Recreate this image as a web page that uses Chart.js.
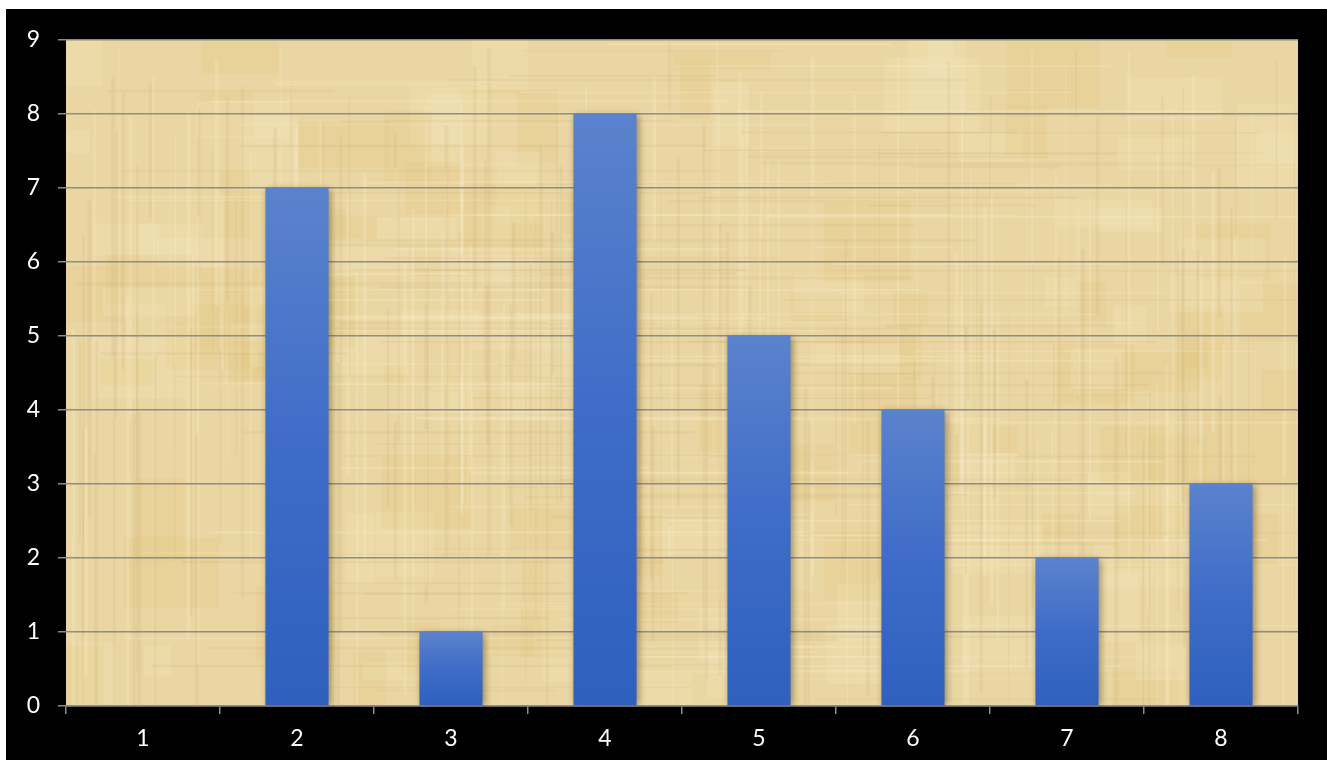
<!DOCTYPE html>
<html lang="en">
<head>
    <meta charset="UTF-8">
    <title>Bar chart</title>
    <script src="https://cdn.jsdelivr.net/npm/chart.js"></script>
    <style>
        html, body { margin: 0; padding: 0; background: #ffffff; }
        #wrap { position: absolute; left: 0; top: 0; width: 1327px; height: 760px; }
    </style>
</head>
<body>
    <div id="wrap"><canvas id="barChart"></canvas></div>
    <script>
        const categories = ['1', '2', '3', '4', '5', '6', '7', '8'];
        const values = [0, 7, 1, 8, 5, 4, 2, 3];
        const yTicks = [0, 1, 2, 3, 4, 5, 6, 7, 8, 9];

        // simple hash so the paper texture looks the same every time
        function hash(n)
        {
            const s = Math.sin(n * 127.1 + 311.7) * 43758.5453;
            return s - Math.floor(s);
        }

        const backgroundPlugin = {
            id: 'papyrus',
            beforeDraw(chart)
            {
                const ctx = chart.ctx;
                const a = chart.chartArea;
                const w = a.right - a.left;
                const h = a.bottom - a.top;
                ctx.save();
                ctx.fillStyle = '#ffffff';
                ctx.fillRect(0, 0, chart.width, chart.height);
                ctx.fillStyle = '#000000';
                ctx.fillRect(6, 9, chart.width - 6, chart.height - 9);

                ctx.beginPath();
                ctx.rect(a.left, a.top, w, h);
                ctx.clip();
                ctx.fillStyle = '#EAD6A2';
                ctx.fillRect(a.left, a.top, w, h);
                // blotches
                for (let i = 0; i < 140; i++)
                {
                    const x = a.left + hash(i + 4000) * w - 30;
                    const y = a.top + hash(i + 4500) * h - 30;
                    const bw = 20 + hash(i + 5000) * 80;
                    const bh = 15 + hash(i + 5500) * 70;
                    ctx.fillStyle = hash(i + 6000) > 0.5 ? 'rgba(225,195,115,0.16)' : 'rgba(245,232,198,0.22)';
                    ctx.fillRect(x, y, bw, bh);
                }
                // vertical fibres
                for (let i = 0; i < 220; i++)
                {
                    const x = a.left + hash(i) * w;
                    const fw = 1 + hash(i + 500) * 3;
                    const y0 = a.top + hash(i + 700) * h * 0.6;
                    const len = h * (0.2 + hash(i + 800) * 0.6);
                    const light = hash(i + 900) > 0.5;
                    ctx.fillStyle = light ? 'rgba(248,238,205,0.25)' : 'rgba(190,160,95,0.12)';
                    ctx.fillRect(x, y0, fw, len);
                }
                // horizontal fibres
                for (let i = 0; i < 160; i++)
                {
                    const y = a.top + hash(i + 2000) * h;
                    const fh = 1 + hash(i + 2500) * 2;
                    const x0 = a.left + hash(i + 2700) * w * 0.7;
                    const len = w * (0.1 + hash(i + 2800) * 0.4);
                    const light = hash(i + 2900) > 0.5;
                    ctx.fillStyle = light ? 'rgba(250,240,210,0.22)' : 'rgba(190,160,95,0.1)';
                    ctx.fillRect(x0, y, len, fh);
                }
                ctx.restore();
            },
            beforeDatasetsDraw(chart)
            {
                const ctx = chart.ctx;
                ctx.save();
                ctx.shadowColor = 'rgba(60,40,0,0.45)';
                ctx.shadowBlur = 7;
                ctx.shadowOffsetX = 2;
                ctx.shadowOffsetY = 1;
            },
            afterDatasetsDraw(chart)
            {
                chart.ctx.restore();
            }
        };

        function barGradient(context)
        {
            const chart = context.chart;
            const y = chart.scales.y;
            if (!chart.chartArea || !y) return '#4472C4';
            const v = values[context.dataIndex];
            const top = y.getPixelForValue(v);
            const bottom = y.getPixelForValue(0);
            if (bottom - top < 1) return '#4472C4';
            const g = chart.ctx.createLinearGradient(0, top, 0, bottom);
            g.addColorStop(0, '#5B82CC');
            g.addColorStop(0.5, '#3E6CC8');
            g.addColorStop(1, '#2F60BE');
            return g;
        }

        const ctx = document.getElementById('barChart').getContext('2d');
        new Chart(ctx,
        {
            type: 'bar',
            data:
            {
                labels: categories,
                datasets:
                [{
                    data: values,
                    backgroundColor: barGradient,
                    borderWidth: 0,
                    barPercentage: 0.41,
                    categoryPercentage: 1.0
                }]
            },
            options:
            {
                responsive: true,
                maintainAspectRatio: false,
                animation: false,
                devicePixelRatio: 1,
                layout: { padding: { left: 0, top: 40, right: 29, bottom: 0 } },
                plugins:
                {
                    legend: { display: false },
                    tooltip: { enabled: false }
                },
                scales:
                {
                    x:
                    {
                        offset: true,
                        grid:
                        {
                            display: true,
                            offset: true,
                            drawOnChartArea: false,
                            tickLength: 8,
                            color: '#8C8C8C',
                            lineWidth: 1.5
                        },
                        border: { display: true, color: '#8C8C8C', width: 1.5 },
                        ticks:
                        {
                            color: '#ffffff',
                            font: { family: 'Lato', size: 23 },
                            padding: 11
                        },
                        afterFit(scale) { scale.height = 54; }
                    },
                    y:
                    {
                        min: 0,
                        max: 9,
                        afterBuildTicks(scale) { scale.ticks = yTicks.map(v => ({ value: v })); },
                        grid:
                        {
                            color: '#8C8C8C',
                            lineWidth: 1.5,
                            tickLength: 8
                        },
                        border: { display: false },
                        ticks:
                        {
                            color: '#ffffff',
                            font: { family: 'Lato', size: 23 },
                            padding: 18
                        },
                        afterFit(scale) { scale.width = 66; }
                    }
                }
            },
            plugins: [backgroundPlugin]
        });
    </script>
</body>
</html>
